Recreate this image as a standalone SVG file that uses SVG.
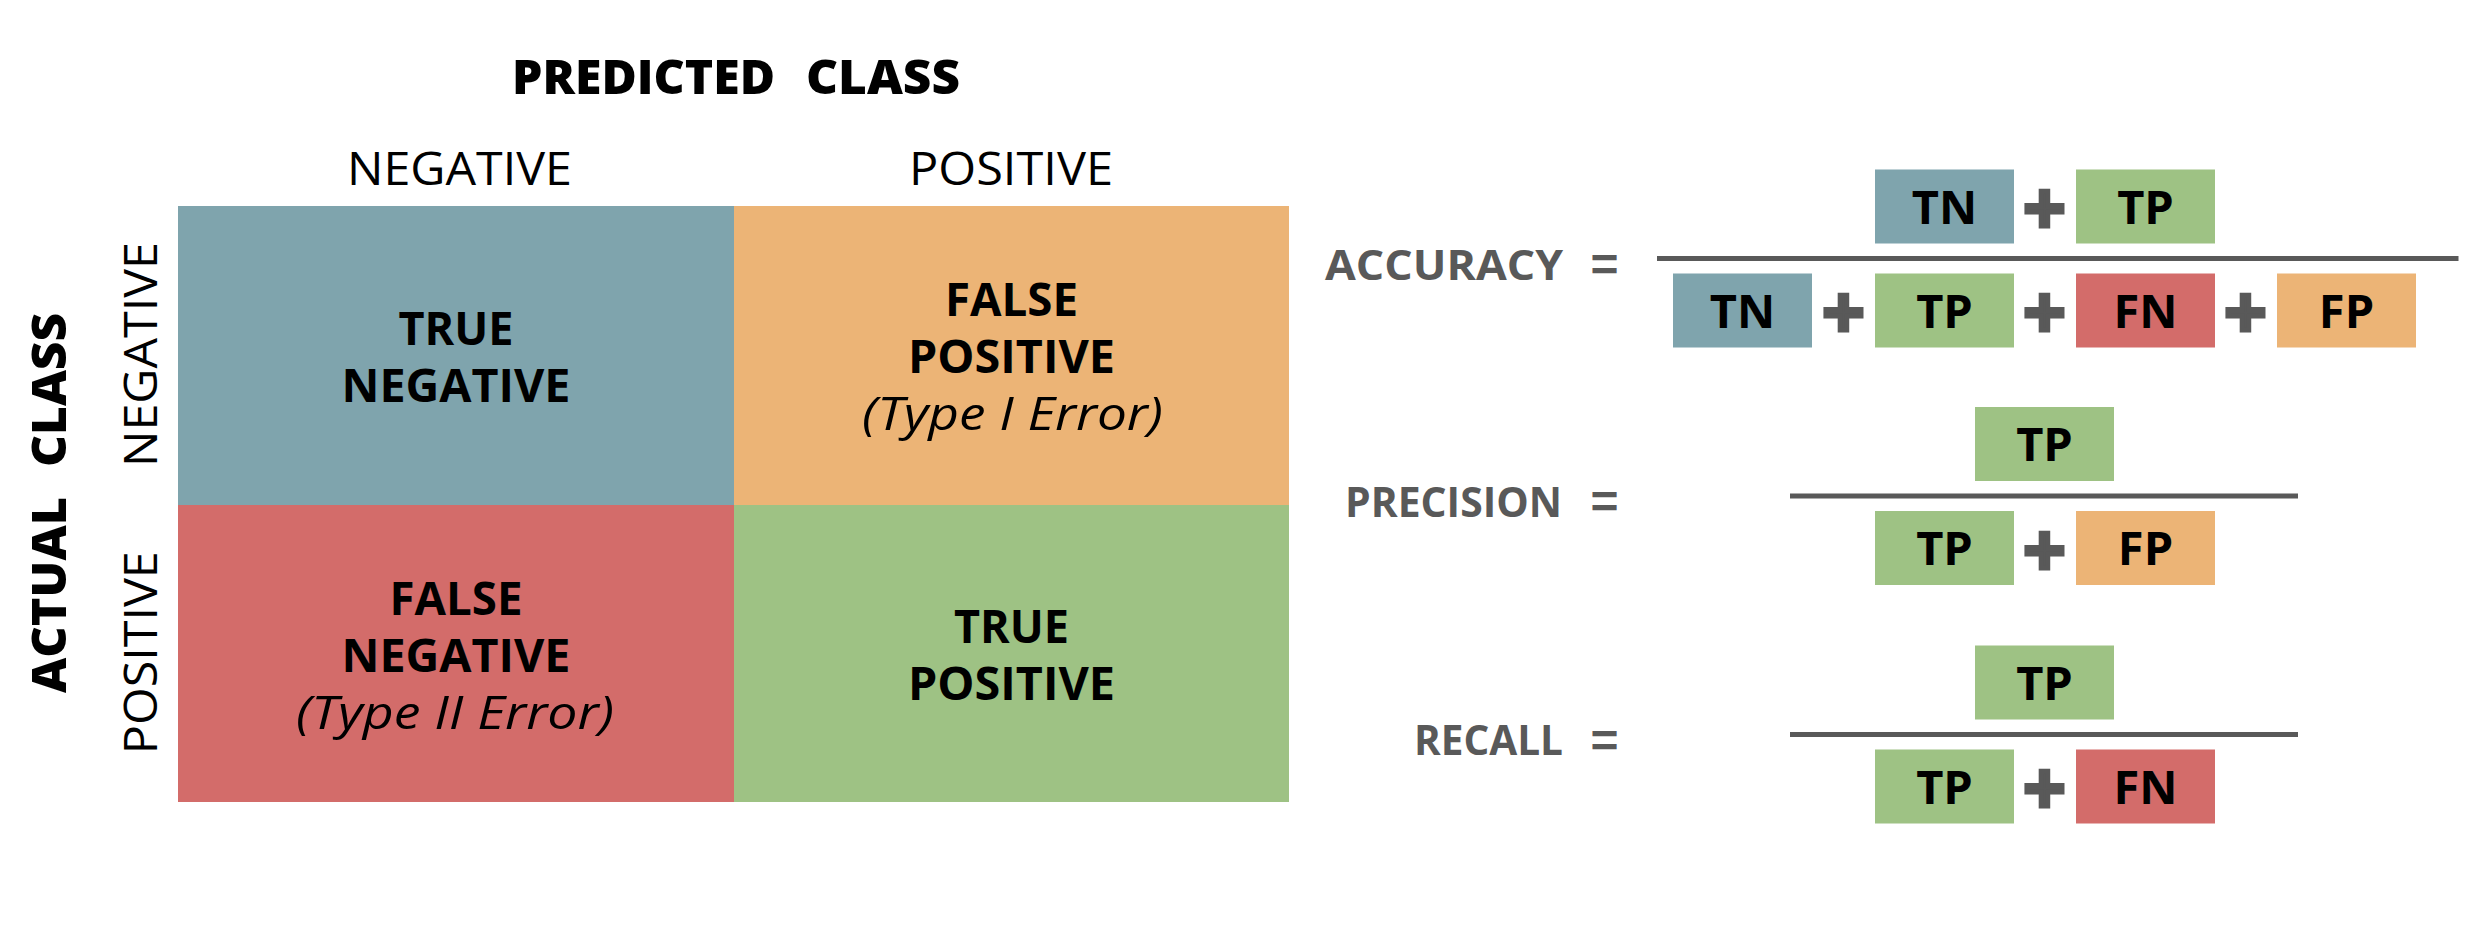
<svg xmlns="http://www.w3.org/2000/svg" width="2480" height="944" viewBox="0 0 2480 944">
  <style>
    .heavy { font-family: "Open Sans", "DejaVu Sans", sans-serif; font-weight: 800; font-size: 48px; fill: #000; }
    .hdr { font-family: "Open Sans", "DejaVu Sans", sans-serif; font-weight: 400; font-size: 46px; fill: #000; text-anchor: middle; }
    .cell { font-family: "Open Sans", "DejaVu Sans", sans-serif; font-weight: 700; font-size: 46px; fill: #000; text-anchor: middle; }
    .ital { font-family: "Open Sans", "DejaVu Sans", sans-serif; font-style: italic; font-weight: 400; font-size: 46px; fill: #000; text-anchor: middle; }
    .lbl { font-family: "Open Sans", "Liberation Sans", sans-serif; font-weight: 700; font-size: 42px; fill: #595959; text-anchor: end; }
    .eq { font-family: "Liberation Sans", Arial, sans-serif; font-weight: 700; font-size: 48px; fill: #595959; text-anchor: middle; }
    .plus { font-family: "DejaVu Sans", sans-serif; font-weight: 700; font-size: 56px; fill: #595959; stroke: #595959; stroke-width: 5; stroke-linejoin: miter; text-anchor: middle; }
    .box { font-family: "Open Sans", "DejaVu Sans", sans-serif; font-weight: 700; font-size: 47px; fill: #000; text-anchor: middle; }
    .bar { stroke: #595959; stroke-width: 5; }
    .tn { fill: #7FA4AD; }
    .fp { fill: #ECB476; }
    .fn { fill: #D36C6A; }
    .tp { fill: #9EC284; }
  </style>

  <rect x="0" y="0" width="2480" height="944" fill="#ffffff"/>

  <!-- axis titles -->
  <g id="predicted-class">
    <text class="heavy" y="94"><tspan x="512" textLength="263" lengthAdjust="spacingAndGlyphs">PREDICTED</tspan><tspan x="806" textLength="154" lengthAdjust="spacingAndGlyphs">CLASS</tspan></text>
  </g>
  <g id="actual-class">
    <text class="heavy" transform="translate(66,0) rotate(-90)"><tspan x="-693" textLength="196" lengthAdjust="spacingAndGlyphs">ACTUAL</tspan><tspan x="-467" textLength="154" lengthAdjust="spacingAndGlyphs">CLASS</tspan></text>
  </g>

  <!-- column / row headers -->
  <g id="col-negative"><text class="hdr" x="459.5" y="185" textLength="225" lengthAdjust="spacingAndGlyphs">NEGATIVE</text></g>
  <g id="col-positive"><text class="hdr" x="1011" y="185" textLength="204" lengthAdjust="spacingAndGlyphs">POSITIVE</text></g>
  <g id="row-negative"><text class="hdr" transform="translate(157,354.5) rotate(-90)" x="0" y="0" textLength="225" lengthAdjust="spacingAndGlyphs">NEGATIVE</text></g>
  <g id="row-positive"><text class="hdr" transform="translate(157,652.7) rotate(-90)" x="0" y="0" textLength="203" lengthAdjust="spacingAndGlyphs">POSITIVE</text></g>

  <!-- matrix cells -->
  <g id="cell-true-negative">
    <rect class="tn" x="178" y="206" width="556" height="299"/>
    <text class="cell" x="456" y="345" textLength="115" lengthAdjust="spacingAndGlyphs">TRUE</text>
    <text class="cell" x="456" y="402" textLength="229" lengthAdjust="spacingAndGlyphs">NEGATIVE</text>
  </g>
  <g id="cell-false-positive">
    <rect class="fp" x="734" y="206" width="555" height="299"/>
    <text class="cell" x="1011.5" y="316" textLength="133" lengthAdjust="spacingAndGlyphs">FALSE</text>
    <text class="cell" x="1011.5" y="373" textLength="207" lengthAdjust="spacingAndGlyphs">POSITIVE</text>
    <text class="ital" x="1012.5" y="430" textLength="301" lengthAdjust="spacingAndGlyphs">(Type I Error)</text>
  </g>
  <g id="cell-false-negative">
    <rect class="fn" x="178" y="505" width="556" height="297"/>
    <text class="cell" x="456" y="615" textLength="133" lengthAdjust="spacingAndGlyphs">FALSE</text>
    <text class="cell" x="456" y="672" textLength="229" lengthAdjust="spacingAndGlyphs">NEGATIVE</text>
    <text class="ital" x="455" y="729" textLength="318" lengthAdjust="spacingAndGlyphs">(Type II Error)</text>
  </g>
  <g id="cell-true-positive">
    <rect class="tp" x="734" y="505" width="555" height="297"/>
    <text class="cell" x="1011.5" y="643" textLength="115" lengthAdjust="spacingAndGlyphs">TRUE</text>
    <text class="cell" x="1011.5" y="700" textLength="207" lengthAdjust="spacingAndGlyphs">POSITIVE</text>
  </g>

  <!-- ACCURACY -->
  <g id="accuracy">
    <text class="lbl" x="1563" y="279.5" textLength="238" lengthAdjust="spacingAndGlyphs">ACCURACY</text>
    <text class="eq" x="1604.5" y="281">=</text>
    <line class="bar" x1="1657" y1="258.5" x2="2458.5" y2="258.5"/>
    <g id="acc-num-tn"><rect class="tn" x="1875" y="169.5" width="139" height="74"/><text class="box" x="1944.5" y="223.5">TN</text></g>
    <text class="plus" x="2044.5" y="226">+</text>
    <g id="acc-num-tp"><rect class="tp" x="2076" y="169.5" width="139" height="74"/><text class="box" x="2145.5" y="223.5">TP</text></g>
    <g id="acc-den-tn"><rect class="tn" x="1673" y="273.5" width="139" height="74"/><text class="box" x="1742.5" y="327.5">TN</text></g>
    <text class="plus" x="1843.5" y="330">+</text>
    <g id="acc-den-tp"><rect class="tp" x="1875" y="273.5" width="139" height="74"/><text class="box" x="1944.5" y="327.5">TP</text></g>
    <text class="plus" x="2044.5" y="330">+</text>
    <g id="acc-den-fn"><rect class="fn" x="2076" y="273.5" width="139" height="74"/><text class="box" x="2145.5" y="327.5">FN</text></g>
    <text class="plus" x="2245.5" y="330">+</text>
    <g id="acc-den-fp"><rect class="fp" x="2277" y="273.5" width="139" height="74"/><text class="box" x="2346.5" y="327.5">FP</text></g>
  </g>

  <!-- PRECISION -->
  <g id="precision">
    <text class="lbl" x="1562" y="516.5" textLength="217" lengthAdjust="spacingAndGlyphs">PRECISION</text>
    <text class="eq" x="1604.5" y="518">=</text>
    <line class="bar" x1="1790" y1="496" x2="2298" y2="496"/>
    <g id="prec-num-tp"><rect class="tp" x="1975" y="407" width="139" height="74"/><text class="box" x="2044.5" y="461">TP</text></g>
    <g id="prec-den-tp"><rect class="tp" x="1875" y="511" width="139" height="74"/><text class="box" x="1944.5" y="565">TP</text></g>
    <text class="plus" x="2044.5" y="567.5">+</text>
    <g id="prec-den-fp"><rect class="fp" x="2076" y="511" width="139" height="74"/><text class="box" x="2145.5" y="565">FP</text></g>
  </g>

  <!-- RECALL -->
  <g id="recall">
    <text class="lbl" x="1563" y="755" textLength="149" lengthAdjust="spacingAndGlyphs">RECALL</text>
    <text class="eq" x="1604.5" y="757">=</text>
    <line class="bar" x1="1790" y1="734.5" x2="2298" y2="734.5"/>
    <g id="rec-num-tp"><rect class="tp" x="1975" y="645.5" width="139" height="74"/><text class="box" x="2044.5" y="699.5">TP</text></g>
    <g id="rec-den-tp"><rect class="tp" x="1875" y="749.5" width="139" height="74"/><text class="box" x="1944.5" y="803.5">TP</text></g>
    <text class="plus" x="2044.5" y="806">+</text>
    <g id="rec-den-fn"><rect class="fn" x="2076" y="749.5" width="139" height="74"/><text class="box" x="2145.5" y="803.5">FN</text></g>
  </g>

  <g id="connectors"></g>
</svg>
